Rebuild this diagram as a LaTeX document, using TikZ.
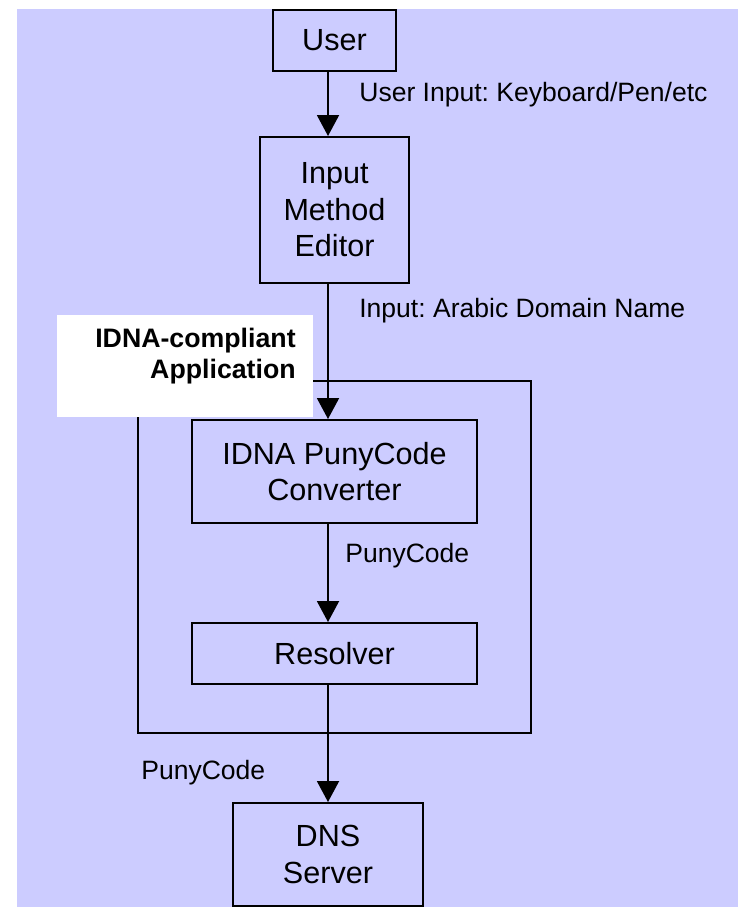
\documentclass[tikz,border=0pt]{standalone}
\usepackage{fontspec}
\setmainfont{Liberation Sans}
\frenchspacing
\usetikzlibrary{arrows.meta, positioning, calc}
\definecolor{lavender}{HTML}{CCCCFF}
\tikzset{
    unit/.style={
        rectangle, draw=black, line width=1.1pt,
        align=center, inner sep=0pt,
        font=\fontsize{17.4pt}{20.8pt}\selectfont
    },
    appframe/.style={
        rectangle, draw=black, line width=1.1pt,
        minimum width=7.86cm, minimum height=7.04cm
    },
    notebox/.style={
        rectangle, fill=white, inner sep=0pt,
        minimum width=5.12cm, minimum height=2.04cm
    },
    notetext/.style={
        align=right, inner sep=0pt,
        font=\bfseries\fontsize{15.2pt}{17.6pt}\selectfont
    },
    flowlabel/.style={
        inner sep=0pt, anchor=base west,
        font=\fontsize{15.1pt}{18pt}\selectfont
    },
    flow/.style={draw=black, line width=1.1pt, -{Triangle[length=0.42cm, width=0.44cm]}}
}

\begin{document}
\begin{tikzpicture}

\useasboundingbox (0,0) rectangle (14.76,18.14);
\fill[lavender] (0.34,0) rectangle (14.76,17.96);

% Application frame
\node[appframe] (app) at (6.69,7.00) {};
\node[notebox] (appnote) at (3.70,10.82) {};
\node[notetext, anchor=north east] (applabel) at (5.92,11.58) {IDNA-compliant\\Application};

% Units
\node[unit, minimum width=2.46cm, minimum height=1.22cm] (user) at (6.69,17.33) {User};
\node[unit, minimum width=2.98cm, minimum height=2.92cm] (ime) at (6.69,13.94) {Input\\Method\\Editor};
\node[unit, minimum width=5.7cm, minimum height=2.06cm] (conv) at (6.69,8.71) {IDNA PunyCode\\Converter};
\node[unit, minimum width=5.7cm, minimum height=1.22cm] (resolver) at (6.69,5.07) {Resolver};
\node[unit, minimum width=3.8cm, minimum height=2.06cm] (dns) at (6.56,1.05) {DNS\\Server};

% Labels
\node[flowlabel] (userinput) at (7.18,16.10) {User Input: Keyboard/Pen/etc};
\node[flowlabel] (arabicinput) at (7.18,11.78) {Input: Arabic Domain Name};
\node[flowlabel] (punyinner) at (6.90,6.88) {PunyCode};
\node[flowlabel] (punyouter) at (2.82,2.54) {PunyCode};

% Connections
\draw[flow] (user.south -| dns.north) -- (ime.north -| dns.north);
\draw[flow] (ime.south -| dns.north) -- (conv.north -| dns.north);
\draw[flow] (conv.south -| dns.north) -- (resolver.north -| dns.north);
\draw[flow] (resolver.south -| dns.north) -- (dns.north);

\end{tikzpicture}
\end{document}
